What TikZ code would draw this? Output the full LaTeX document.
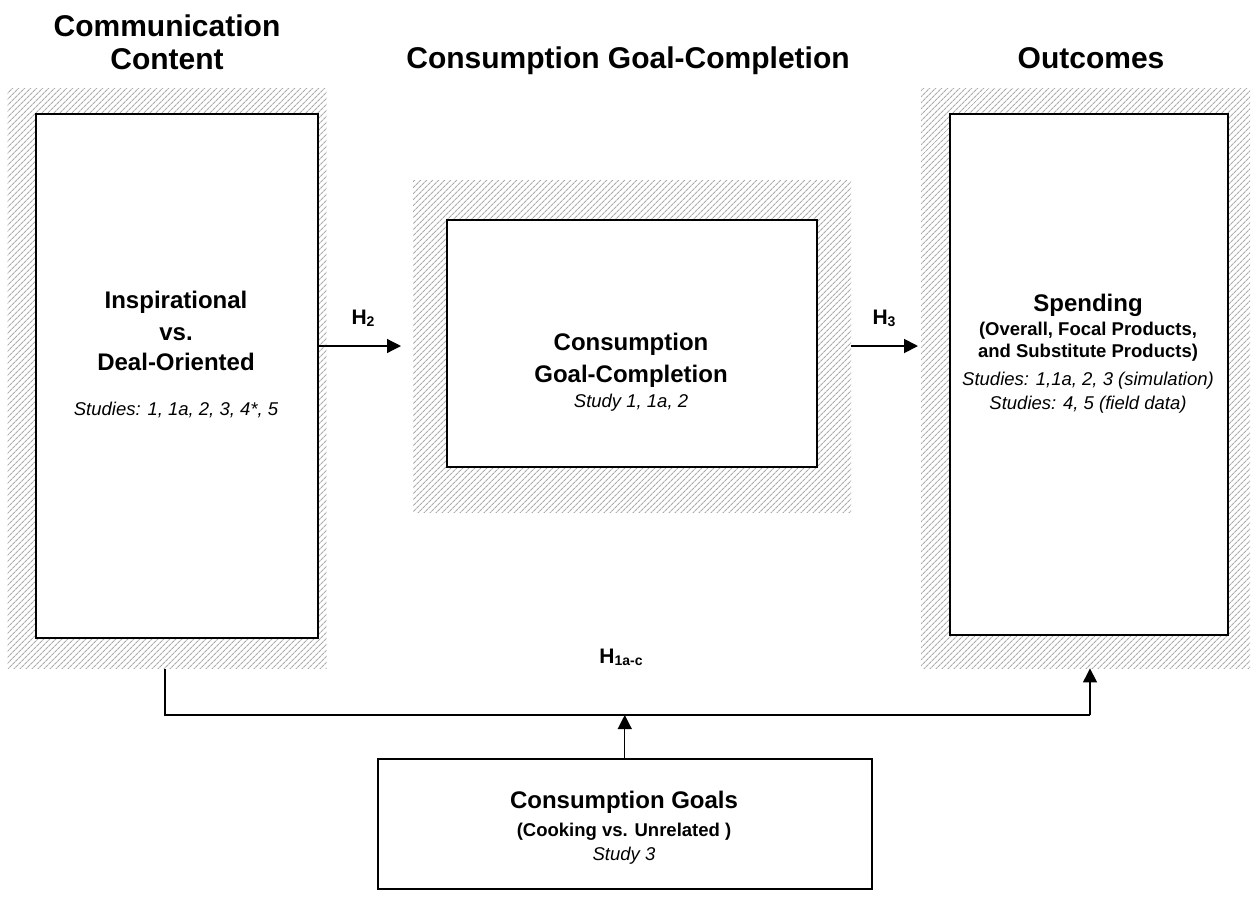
\documentclass[tikz,border=0pt]{standalone}
\usepackage{fontspec}
\setmainfont{Liberation Sans}
\usetikzlibrary{patterns.meta,arrows.meta}
\tikzset{
  hatch/.style={draw=none, inner sep=0, anchor=north west, pattern={Lines[angle=45,distance=4pt,line width=1.1pt]}, pattern color=gray!65},
  box/.style={draw=black, line width=1.5pt, fill=white, inner sep=0, anchor=north west},
  title/.style={font=\fontsize{30}{34}\selectfont\bfseries, anchor=base, inner sep=0},
  main/.style={font=\fontsize{24}{28}\selectfont\bfseries, anchor=base, inner sep=0},
  sub/.style={font=\fontsize{18.5}{22}\selectfont\bfseries, anchor=base, inner sep=0},
  stud/.style={font=\fontsize{18.5}{22}\selectfont\itshape, anchor=base, inner sep=0},
  hlab/.style={font=\fontsize{21}{24}\selectfont\bfseries, anchor=base, inner sep=0},
  conn/.style={line width=1.2pt, draw=black},
  arr/.style={conn, -{Triangle[length=14pt,width=14pt]}},
}
\newcommand{\subsc}[1]{{\fontsize{14}{14}\selectfont\raisebox{-2pt}{#1}}}
\begin{document}
\begin{tikzpicture}[x=1pt,y=-1pt]
\useasboundingbox (0,0) rectangle (1257,898);
\fill[white] (0,0) rectangle (1257,898);
% titles
\node[title] (t1a) at (167,36) {Communication};
\node[title] (t1b) at (167,69) {Content};
\node[title] (t2) at (628,68) {Consumption Goal-Completion};
\node[title] (t3) at (1091,68) {Outcomes};
% hatched regions
\node[hatch, minimum width=319pt, minimum height=580pt] (lhatch) at (7,88) {};
\node[hatch, minimum width=438pt, minimum height=332pt] (mhatch) at (413,180) {};
\node[hatch, minimum width=329pt, minimum height=580pt] (rhatch) at (921,88) {};
% boxes
\node[box, minimum width=282pt, minimum height=524pt] (lbox) at (35,113) {};
\node[box, minimum width=370pt, minimum height=247pt] (mbox) at (446,219) {};
\node[box, minimum width=278pt, minimum height=521pt] (rbox) at (949,113) {};
\node[box, minimum width=494pt, minimum height=130pt] (gbox) at (377,758) {};
% left box text
\node[main] (l1) at (176,308) {Inspirational};
\node[main] (l2) at (176,340) {vs.};
\node[main] (l3) at (176,370) {Deal-Oriented};
\node[stud] (l4) at (176,415) {Studies: 1, 1a, 2, 3, 4*, 5};
% middle box text
\node[main] (m1) at (631,350) {Consumption};
\node[main] (m2) at (631,382) {Goal-Completion};
\node[stud] (m3) at (631,407) {Study 1, 1a, 2};
% right box text
\node[main] (r1) at (1088,311) {Spending};
\node[sub] (r2) at (1088,335) {(Overall, Focal Products,};
\node[sub] (r3) at (1088,357) {and Substitute Products)};
\node[stud] (r4) at (1088,385) {Studies: 1,1a, 2, 3 (simulation)};
\node[stud] (r5) at (1088,409) {Studies: 4, 5 (field data)};
% bottom box text
\node[main] (g1) at (624,808) {Consumption Goals};
\node[sub] (g2) at (624,836) {(Cooking vs. Unrelated )};
\node[stud] (g3) at (624,860) {Study 3};
% hypothesis labels
\node[hlab] (h2lab) at (363,324) {H\subsc{2}};
\node[hlab] (h3lab) at (884,324) {H\subsc{3}};
\node[hlab] (h1lab) at (621,663) {H\subsc{1a-c}};
% connectors
\coordinate (h2e) at (401,346);
\coordinate (h3e) at (918,346);
\draw[arr] (lbox.east |- h2e) -- (h2e);
\draw[arr, line width=1.8pt] (mhatch.east |- h3e) -- (h3e);
\coordinate (jl) at (165,715);
\coordinate (jr) at (1090,715);
\draw[conn] (lhatch.south -| jl) -- (jl) -- (jr);
\draw[arr] (jr) -- (rhatch.south -| jr);
\draw[arr] (gbox.north) -- (gbox.north |- jl);
\end{tikzpicture}
\end{document}
